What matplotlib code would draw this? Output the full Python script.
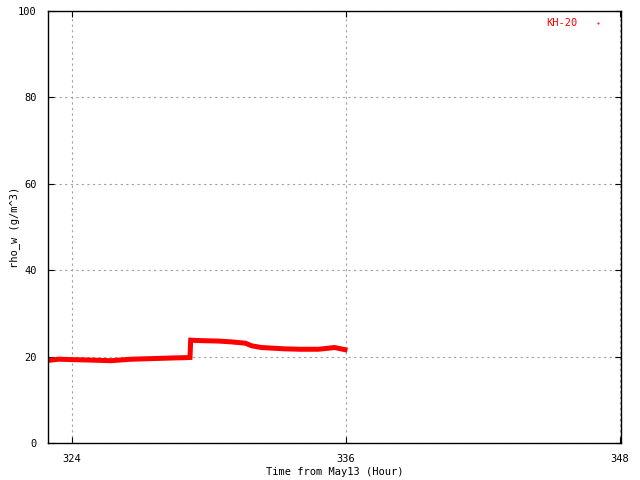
import matplotlib
matplotlib.use("Agg")
import matplotlib.pyplot as plt
from matplotlib.lines import Line2D

# readings (hour from May13, rho_w in g/m^3)
hours = [322.95, 323.4, 324.0, 324.8, 325.7, 326.6, 327.3, 327.9, 328.5, 328.95, 329.17,
         329.2, 329.6, 330.4, 331.0, 331.6, 331.87, 332.3, 333.3, 334.0, 334.8, 335.5, 335.96]
rho_w = [19.1, 19.4, 19.3, 19.2, 19.05, 19.4, 19.5, 19.6, 19.7, 19.75, 19.8,
         23.8, 23.7, 23.6, 23.4, 23.1, 22.5, 22.1, 21.8, 21.7, 21.7, 22.1, 21.6]
series_name = "KH-20"
x_ticks = [324, 336, 348]
y_ticks = [0, 20, 40, 60, 80, 100]

plt.rcParams["font.family"] = ["DejaVu Sans Mono"]
plt.rcParams["font.size"] = 7.5

fig = plt.figure(figsize=(6.4, 4.8), dpi=100)
ax = fig.add_axes([48 / 640, 37 / 480, 573 / 640, 432 / 480])

ax.plot(hours, rho_w, color="red", linewidth=3.6, solid_joinstyle="miter")

ax.set_xlim(322.95, 348.05)
ax.set_ylim(0, 100)
ax.set_xticks(x_ticks)
ax.set_yticks(y_ticks)
ax.tick_params(direction="in", length=4, top=True, right=True, pad=8, labelsize=7.5)
ax.grid(True, color="#a0a0a0", linestyle=(0, (2, 3)), linewidth=0.8)
for s in ax.spines.values():
    s.set_linewidth(1)

ax.set_xlabel("Time from May13 (Hour)", fontsize=7.5)
ax.set_ylabel("rho_w (g/m^3)", fontsize=7.5)
ax.xaxis.set_label_coords(0.5, -24 / 432)
ax.yaxis.set_label_coords(-28 / 573, 0.5)

handle = Line2D([], [], color="red", marker=".", markersize=1, linestyle="none")
leg = ax.legend([handle], [series_name], loc="upper right", frameon=False,
                markerfirst=False, fontsize=7.5, bbox_to_anchor=(0.99, 1.005),
                handlelength=1.5, handletextpad=1.2)
for t in leg.get_texts():
    t.set_color("red")

fig.savefig("out.png", dpi=100)
